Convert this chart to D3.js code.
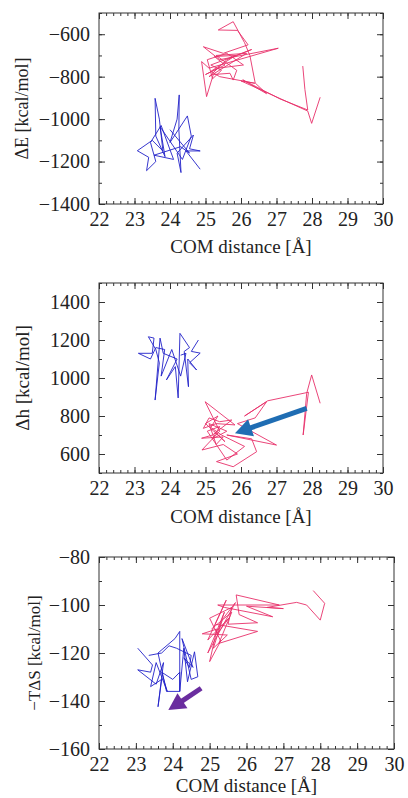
<!DOCTYPE html>
<html>
<head>
<meta charset="utf-8">
<script src="https://cdn.jsdelivr.net/npm/d3@7"></script>
<style>
html,body{margin:0;padding:0;background:#fff;}
svg{display:block;}
</style>
</head>
<body>
<svg id="chart" width="408" height="798"></svg>
<script>
// ---------- data ----------
const xTicks = [22,23,24,25,26,27,28,29,30];
const xLabel = "COM distance [Å]";

const yLabels = ["ΔE [kcal/mol]", "Δh [kcal/mol]", "−TΔS [kcal/mol]"];
const yTicks1 = [-1400,-1200,-1000,-800,-600];
const yTicks2 = [600,800,1000,1200,1400];
const yTicks3 = [-160,-140,-120,-100,-80];

// panel 1: ΔE
const red1 = [[27.74,-750],[27.80,-860],[27.88,-957],[27.10,-905],[26.05,-815],[26.72,-880],[26.40,-830],[26.25,-700],[26.10,-640],[25.78,-541],[25.36,-580],[25.90,-582],[26.20,-650],[25.50,-690],[24.94,-659],[25.40,-720],[27.05,-666],[25.10,-760],[24.89,-729],[25.03,-894],[25.22,-790],[25.69,-784],[25.78,-816],[25.88,-770],[25.30,-700],[26.16,-690],[25.10,-800],[25.60,-720],[26.30,-672],[25.15,-745],[25.45,-770],[25.20,-810],[25.05,-720],[25.60,-690],[26.07,-745],[25.35,-760],[25.00,-790],[25.55,-745],[25.25,-705],[25.85,-700],[25.15,-775],[25.40,-800],[26.39,-831],[26.00,-820],[27.88,-962],[27.99,-1020],[28.23,-897]];
const blue1 = [[24.85,-1236],[24.45,-1150],[24.85,-1150],[24.55,-1140],[24.66,-1075],[24.20,-1160],[24.31,-1252],[24.25,-1050],[24.26,-886],[24.20,-1000],[24.00,-1110],[24.49,-985],[24.60,-1080],[24.35,-1190],[23.72,-1036],[23.86,-1177],[23.60,-1080],[23.58,-902],[23.70,-1000],[23.80,-1150],[23.50,-1100],[23.08,-1149],[23.40,-1180],[23.34,-1243],[23.60,-1200],[23.45,-1110],[23.75,-1030],[24.10,-1190],[23.55,-1170],[24.30,-1130],[24.55,-1160],[24.00,-1050]];

// panel 2: Δh
const red2 = [[28.23,867],[27.99,1016],[27.85,919],[27.75,700],[27.90,925],[26.75,880],[26.10,800],[26.72,875],[26.40,790],[25.90,760],[27.00,647],[25.60,700],[26.30,680],[26.44,612],[25.78,533],[25.31,560],[25.90,600],[25.50,650],[24.90,621],[25.40,720],[24.99,875],[25.83,753],[25.30,760],[24.94,735],[25.10,790],[25.40,770],[25.74,779],[25.20,700],[24.89,683],[25.50,690],[25.30,650],[25.10,760],[25.60,720],[25.20,680],[25.40,745],[25.05,720],[25.60,568],[26.10,640],[25.45,700],[25.15,740],[25.35,800],[25.00,760],[25.55,665],[25.25,720]];
const blue2 = [[24.80,1200],[24.60,1140],[24.85,1131],[24.55,1080],[24.75,1042],[24.50,1100],[24.52,954],[24.40,1140],[24.55,1160],[24.28,1235],[24.23,895],[24.15,1060],[23.90,990],[24.20,1100],[23.81,1130],[23.72,1210],[23.58,884],[23.70,1080],[23.60,1150],[23.39,1217],[23.55,1210],[23.50,1130],[23.11,1130],[23.45,1100],[23.60,1160],[23.85,1150],[23.75,1010],[24.05,1150],[24.30,1010],[24.45,1130],[24.30,1120]];

// panel 3: −TΔS
const red3 = [[27.81,-94],[28.12,-99.3],[28.00,-106.3],[27.63,-100],[27.36,-98.9],[26.56,-101],[27.00,-101.5],[26.00,-100.5],[26.71,-104.9],[25.40,-101],[25.22,-100],[26.89,-100],[25.72,-95.8],[25.80,-104],[26.30,-107.4],[25.50,-108],[25.60,-101],[25.00,-105.5],[25.30,-115],[25.00,-123.6],[25.20,-110],[24.80,-112],[25.48,-112.5],[25.10,-118],[25.35,-106],[25.70,-99],[24.95,-120],[25.40,-103],[25.20,-112],[25.55,-105],[24.95,-114.6],[25.45,-98],[25.15,-108],[26.30,-111],[25.25,-116],[25.60,-103],[25.05,-110]];
const blue3 = [[23.05,-118],[23.45,-125],[23.40,-128],[23.05,-127],[23.55,-133],[23.75,-124],[23.60,-142.4],[23.70,-131],[23.40,-134],[23.55,-124],[23.85,-136],[23.70,-128],[24.00,-131],[24.19,-128],[24.19,-136],[23.83,-136],[23.60,-120],[24.06,-114],[24.19,-111],[24.19,-136],[24.30,-118],[24.40,-132],[24.59,-119.5],[24.68,-129.9],[24.50,-131],[24.25,-114],[24.55,-126],[24.30,-122],[24.45,-126],[24.50,-121],[24.10,-118],[23.90,-117],[23.70,-120],[23.35,-121]];

// arrows (tail -> tip) in data units
const arrow2 = [[27.85,840],[25.83,709]];
const arrow3 = [[24.77,-134.7],[23.88,-143.8]];

// ---------- drawing ----------
const FONT = "'Liberation Serif','DejaVu Serif','Times New Roman',serif";
const svg = d3.select("#chart");
const RED = "#e8306a", BLUE = "#2020c8";

const panels = [
  {left:99, right:383, top:13, bottom:204, ydom:[-1400,-500], yticks:yTicks1, yminor:100,
   series:[[red1,RED],[blue1,BLUE]], ylab:yLabels[0], ylabX:22, ylabSize:18, xlabY:253, arrow:null},
  {left:99, right:383, top:283, bottom:473, ydom:[500,1500], yticks:yTicks2, yminor:100,
   series:[[blue2,BLUE],[red2,RED]], ylab:yLabels[1], ylabX:22, ylabSize:19, xlabY:523, arrow:[arrow2,"#1f6db3"]},
  {left:99, right:394, top:557, bottom:749, ydom:[-160,-80], yticks:yTicks3, yminor:10,
   series:[[red3,RED],[blue3,BLUE]], ylab:yLabels[2], ylabX:34, ylabSize:17, xlabY:792, arrow:[arrow3,"#6a2d9f"]}
];

const fmt = d => String(d).replace("-", "−");

panels.forEach(p => {
  const x = d3.scaleLinear().domain([22,30]).range([p.left, p.right]);
  const y = d3.scaleLinear().domain(p.ydom).range([p.bottom, p.top]);
  const g = svg.append("g");

  const xMinor = d3.range(22, 30.001, 0.2).map(v => +v.toFixed(2));
  const yMinor = d3.range(p.ydom[0], p.ydom[1] + 0.001, p.yminor);

  const style = sel => {
    sel.attr("font-family", FONT).attr("font-size", 20);
    sel.select(".domain").remove();
    sel.selectAll(".tick line").attr("stroke", "#333").attr("stroke-width", 1);
    sel.selectAll(".tick text").attr("fill", "#222")
      .style("font-family", FONT).style("font-size", "20px");
  };

  // bottom
  g.append("g").attr("transform", `translate(0,${p.bottom})`)
    .call(d3.axisBottom(x).tickValues(xMinor).tickSizeInner(-3).tickSizeOuter(0).tickFormat("")).call(style);
  g.append("g").attr("transform", `translate(0,${p.bottom})`)
    .call(d3.axisBottom(x).tickValues(xTicks).tickSizeInner(-6).tickSizeOuter(0).tickPadding(8).tickFormat(fmt)).call(style);
  // top
  g.append("g").attr("transform", `translate(0,${p.top})`)
    .call(d3.axisTop(x).tickValues(xMinor).tickSizeInner(-3).tickSizeOuter(0).tickFormat("")).call(style);
  g.append("g").attr("transform", `translate(0,${p.top})`)
    .call(d3.axisTop(x).tickValues(xTicks).tickSizeInner(-6).tickSizeOuter(0).tickFormat("")).call(style);
  // left
  g.append("g").attr("transform", `translate(${p.left},0)`)
    .call(d3.axisLeft(y).tickValues(yMinor).tickSizeInner(-3).tickSizeOuter(0).tickFormat("")).call(style);
  g.append("g").attr("transform", `translate(${p.left},0)`)
    .call(d3.axisLeft(y).tickValues(p.yticks).tickSizeInner(-6).tickSizeOuter(0).tickPadding(9).tickFormat(fmt)).call(style);
  // right
  g.append("g").attr("transform", `translate(${p.right},0)`)
    .call(d3.axisRight(y).tickValues(yMinor).tickSizeInner(-3).tickSizeOuter(0).tickFormat("")).call(style);
  g.append("g").attr("transform", `translate(${p.right},0)`)
    .call(d3.axisRight(y).tickValues(p.yticks).tickSizeInner(-6).tickSizeOuter(0).tickFormat("")).call(style);

  // frame
  g.append("rect").attr("x", p.left).attr("y", p.top)
    .attr("width", p.right - p.left).attr("height", p.bottom - p.top)
    .attr("fill", "none").attr("stroke", "#333").attr("stroke-width", 1);

  // lines
  const line = d3.line().x(d => x(d[0])).y(d => y(d[1]));
  p.series.forEach(([data, col]) => {
    g.append("path").datum(data).attr("d", line)
      .attr("fill", "none").attr("stroke", col).attr("stroke-width", 0.9)
      .attr("stroke-linejoin", "miter").attr("stroke-miterlimit", 4);
  });

  // arrow
  if (p.arrow) {
    const [[x0,y0],[x1,y1]] = p.arrow[0];
    const col = p.arrow[1];
    const X0 = x(x0), Y0 = y(y0), X1 = x(x1), Y1 = y(y1);
    const ang = Math.atan2(Y1 - Y0, X1 - X0);
    const headL = 17, headW = 9;
    const bx = X1 - headL * Math.cos(ang), by = Y1 - headL * Math.sin(ang);
    g.append("line").attr("x1", X0).attr("y1", Y0).attr("x2", bx + 2*Math.cos(ang)).attr("y2", by + 2*Math.sin(ang))
      .attr("stroke", col).attr("stroke-width", 5);
    const nx = -Math.sin(ang), ny = Math.cos(ang);
    g.append("path")
      .attr("d", `M${X1},${Y1}L${bx + headW*nx},${by + headW*ny}L${bx - headW*nx},${by - headW*ny}Z`)
      .attr("fill", col);
  }

  // axis titles
  g.append("text").attr("x", (p.left + p.right) / 2).attr("y", p.xlabY)
    .attr("text-anchor", "middle").attr("fill", "#222")
    .style("font-family", FONT).style("font-size", "19px").text(xLabel);
  g.append("text")
    .attr("transform", `translate(${p.ylabX},${(p.top + p.bottom) / 2}) rotate(-90)`)
    .attr("text-anchor", "middle").attr("dy", "0.35em").attr("fill", "#222")
    .style("font-family", FONT).style("font-size", p.ylabSize + "px").text(p.ylab);
});
</script>
</body>
</html>
